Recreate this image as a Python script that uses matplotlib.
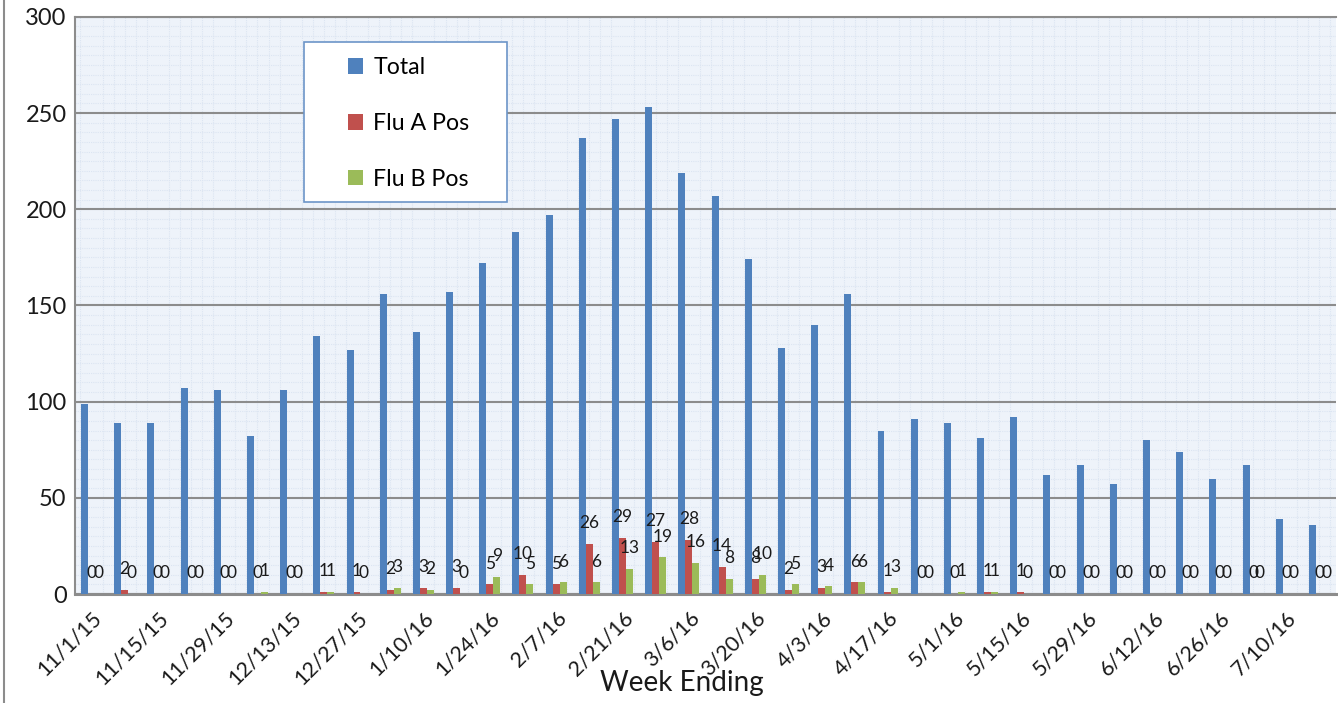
import numpy as np
import matplotlib.pyplot as plt
from matplotlib.ticker import MultipleLocator
from matplotlib.patches import Rectangle
from matplotlib.lines import Line2D

plt.rcParams['font.family'] = ['Lato', 'DejaVu Sans']

weeks = ['11/1/15', '11/8/15', '11/15/15', '11/22/15', '11/29/15', '12/6/15', '12/13/15',
         '12/20/15', '12/27/15', '1/3/16', '1/10/16', '1/17/16', '1/24/16', '1/31/16',
         '2/7/16', '2/14/16', '2/21/16', '2/28/16', '3/6/16', '3/13/16', '3/20/16',
         '3/27/16', '4/3/16', '4/10/16', '4/17/16', '4/24/16', '5/1/16', '5/8/16',
         '5/15/16', '5/22/16', '5/29/16', '6/5/16', '6/12/16', '6/19/16', '6/26/16',
         '7/3/16', '7/10/16', '7/17/16']
total = [99, 89, 89, 107, 106, 82, 106, 134, 127, 156, 136, 157, 172, 188, 197, 237,
         247, 253, 219, 207, 174, 128, 140, 156, 85, 91, 89, 81, 92, 62, 67, 57, 80,
         74, 60, 67, 39, 36]
flu_a = [0, 2, 0, 0, 0, 0, 0, 1, 1, 2, 3, 3, 5, 10, 5, 26, 29, 27, 28, 14, 8, 2, 3,
         6, 1, 0, 0, 1, 1, 0, 0, 0, 0, 0, 0, 0, 0, 0]
flu_b = [0, 0, 0, 0, 0, 1, 0, 1, 0, 3, 2, 0, 9, 5, 6, 6, 13, 19, 16, 8, 10, 5, 4,
         6, 3, 0, 1, 1, 0, 0, 0, 0, 0, 0, 0, 0, 0, 0]

c_total = '#4F81BD'
c_a = '#C0504D'
c_b = '#9BBB59'

fig = plt.figure(figsize=(13.38, 7.03), dpi=100)
ax = fig.add_axes([0.056, 0.155, 0.9425, 0.821])
ax.set_facecolor('#EEF3FA')

x = np.arange(len(weeks))
w = 0.21
ax.bar(x - w, total, w, color=c_total, label='Total', zorder=3)
bars_a = ax.bar(x, flu_a, w, color=c_a, label='Flu A Pos', zorder=3)
bars_b = ax.bar(x + w, flu_b, w, color=c_b, label='Flu B Pos', zorder=3)

# data labels on the flu series only
for bars, vals in ((bars_a, flu_a), (bars_b, flu_b)):
    for b, v in zip(bars, vals):
        ax.annotate(str(v), (b.get_x() + b.get_width() / 2, v),
                    xytext=(0, 15), textcoords='offset points',
                    ha='center', va='center', fontsize=12.5, color='#1a1a1a', zorder=5)

ax.set_xlim(-0.5, len(weeks) - 0.5)
ax.set_ylim(0, 300)
ax.yaxis.set_major_locator(MultipleLocator(50))
ax.yaxis.set_minor_locator(MultipleLocator(5))
ax.xaxis.set_minor_locator(MultipleLocator(1 / 3))
ax.grid(True, which='minor', color='#DCE5F2', linewidth=0.8, linestyle=(0, (1, 1)), zorder=0)
ax.grid(True, which='major', axis='y', color='#8C8C8C', linewidth=1.5, zorder=1)
ax.set_axisbelow(True)

ax.set_xticks(x[::2])
ax.set_xticklabels(weeks[::2], rotation=45, ha='right', va='top',
                   rotation_mode='anchor', fontsize=15.5, color='#1a1a1a')
ax.tick_params(axis='x', which='both', length=0, pad=10)
ax.tick_params(axis='y', which='both', length=0, pad=6, labelsize=17, labelcolor='#1a1a1a')

for s in ('left', 'top', 'bottom'):
    ax.spines[s].set_color('#8C8C8C')
ax.spines['left'].set_linewidth(1.5)
ax.spines['top'].set_linewidth(1.5)
ax.spines['bottom'].set_linewidth(2.2)
ax.spines['right'].set_visible(False)

ax.set_xlabel('Week Ending', fontsize=20, color='#1a1a1a', va='center')
ax.xaxis.set_label_coords(0.481, -0.155)

# legend box
ax.add_patch(Rectangle((0.182, 0.679), 0.161, 0.278, transform=ax.transAxes,
                       facecolor='white', edgecolor='#6C95C8', linewidth=1.2, zorder=6))
leg = ax.legend(loc='upper left', bbox_to_anchor=(0.2165, 0.93), frameon=False,
                fontsize=16.7, handlelength=0.65, handleheight=0.65, handletextpad=0.45,
                labelspacing=1.5, borderpad=0, borderaxespad=0)
leg.set_zorder(7)

fig.add_artist(Line2D([0.003, 0.003], [0, 1], transform=fig.transFigure,
                      color='#8C8C8C', linewidth=1.5))

fig.savefig('out.png', dpi=100)
